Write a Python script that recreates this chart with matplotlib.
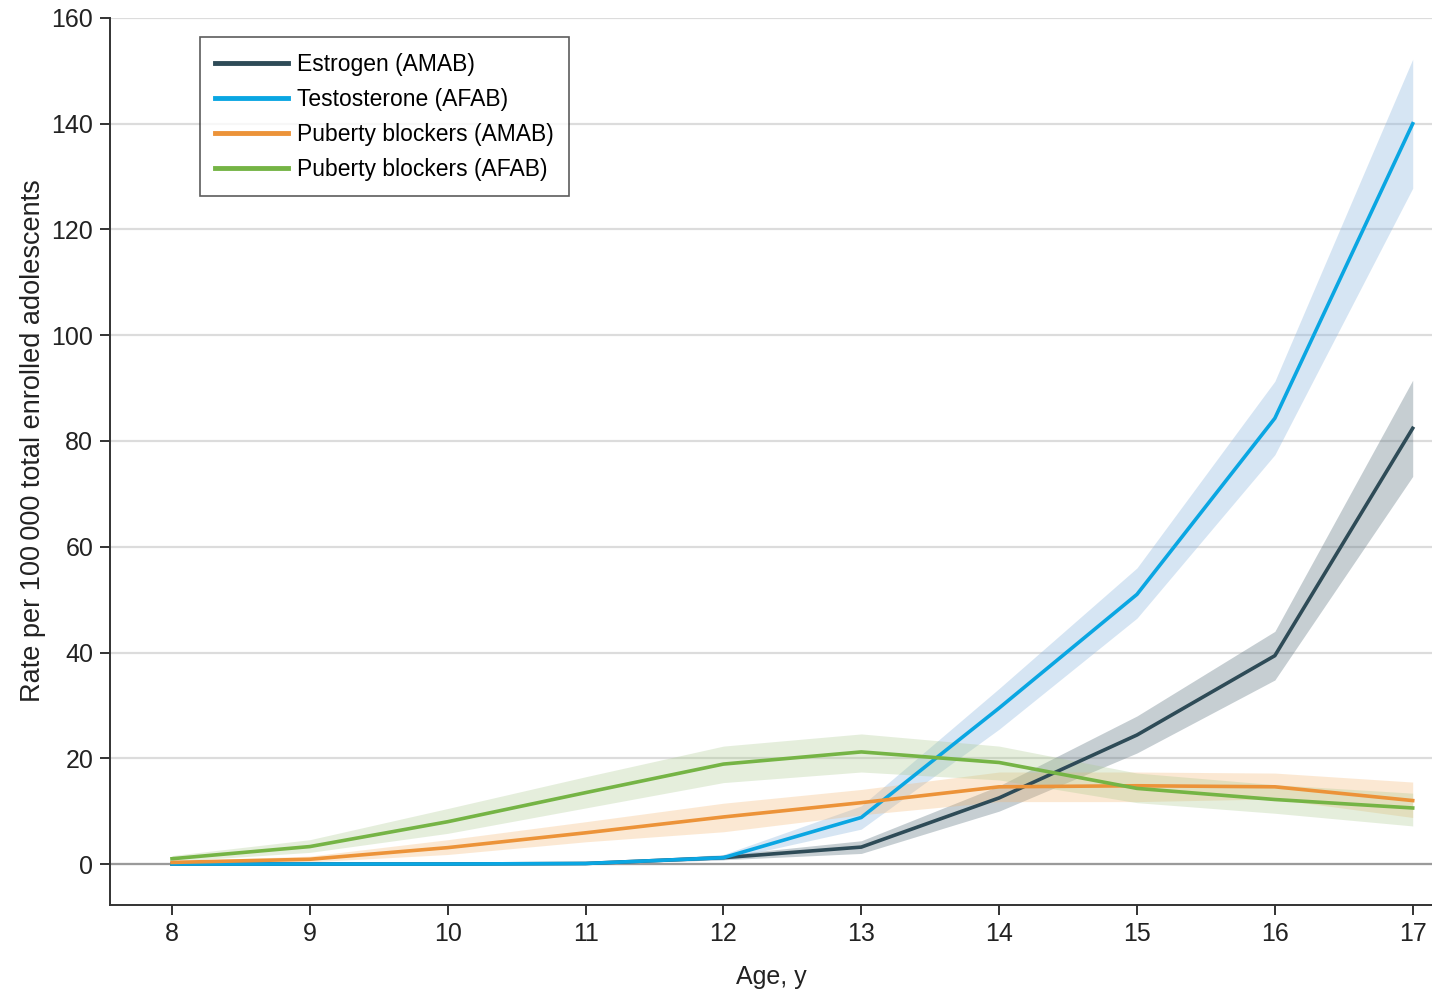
import matplotlib
matplotlib.use('Agg')
import matplotlib.pyplot as plt
import numpy as np

plt.rcParams['font.family'] = ['Liberation Sans Narrow', 'Liberation Sans', 'DejaVu Sans']

# age in years
ages = [8, 9, 10, 11, 12, 13, 14, 15, 16, 17]

# rates per 100 000 and 95% CI
estrogen = [0.0, 0.0, 0.0, 0.1, 1.2, 3.2, 12.5, 24.4, 39.4, 82.4]
estrogen_lo = [0.0, 0.0, 0.0, 0.0, 0.8, 2.0, 10.0, 21.0, 34.8, 73.3]
estrogen_hi = [0.1, 0.1, 0.1, 0.3, 1.7, 4.4, 14.8, 28.0, 44.0, 91.5]

testo = [0.0, 0.0, 0.0, 0.1, 1.2, 8.8, 29.5, 51.0, 84.3, 140.0]
testo_lo = [0.0, 0.0, 0.0, 0.0, 0.8, 6.6, 25.5, 46.5, 77.4, 127.8]
testo_hi = [0.1, 0.1, 0.1, 0.3, 1.8, 11.0, 33.2, 56.0, 91.3, 152.2]

pb_amab = [0.3, 0.9, 3.1, 5.9, 8.9, 11.6, 14.6, 14.8, 14.6, 12.0]
pb_amab_lo = [0.1, 0.4, 1.8, 4.2, 6.1, 9.3, 11.8, 11.8, 12.3, 8.8]
pb_amab_hi = [0.6, 1.5, 4.6, 8.0, 11.5, 14.1, 17.4, 17.4, 17.2, 15.5]

pb_afab = [1.0, 3.3, 8.0, 13.5, 18.9, 21.2, 19.2, 14.3, 12.2, 10.6]
pb_afab_lo = [0.5, 2.2, 5.8, 10.6, 15.4, 17.4, 15.9, 11.6, 9.6, 7.2]
pb_afab_hi = [1.6, 4.6, 10.5, 16.5, 22.3, 24.6, 22.3, 17.2, 15.0, 13.4]

series = [
    ('Estrogen (AMAB)', estrogen, estrogen_lo, estrogen_hi, '#2e4b57', '#5d7480', 0.35),
    ('Testosterone (AFAB)', testo, testo_lo, testo_hi, '#0aa6e2', '#8ab6df', 0.35),
    ('Puberty blockers (AMAB)', pb_amab, pb_amab_lo, pb_amab_hi, '#ec9339', '#f5b56e', 0.3),
    ('Puberty blockers (AFAB)', pb_afab, pb_afab_lo, pb_afab_hi, '#75b445', '#a9c98c', 0.3),
]

fig = plt.figure(figsize=(14.32, 9.92), dpi=100)
ax = fig.add_axes([0.0768, 0.0877, 0.9232, 0.8942])

for label, y, lo, hi, lc, fc, al in series:
    ax.fill_between(ages, lo, hi, color=fc, alpha=al, linewidth=0, zorder=2)
for label, y, lo, hi, lc, fc, al in series:
    ax.plot(ages, y, color=lc, linewidth=2.6, label=label, zorder=3)

ax.set_xlim(7.55, 17.14)
ax.set_ylim(-7.75, 160)
ax.set_xticks(ages)
ax.set_yticks(np.arange(0, 161, 20))
ax.yaxis.grid(True, color='#dcdcdc', linewidth=1.6, zorder=0)
ax.axhline(0, color='#9a9a9a', linewidth=1.6, zorder=1)
ax.set_axisbelow(True)

for s in ['top', 'right']:
    ax.spines[s].set_visible(False)
for s in ['left', 'bottom']:
    ax.spines[s].set_color('#333333')
    ax.spines[s].set_linewidth(1.4)
ax.tick_params(axis='both', direction='out', length=7, width=1.4, color='#333333',
               labelsize=18, labelcolor='#222222', pad=5)

ax.set_xlabel('Age, y', fontsize=18, color='#222222', labelpad=14)
ax.set_ylabel('Rate per 100\u2009000 total enrolled adolescents', fontsize=19.5,
              color='#222222')
ax.yaxis.set_label_coords(-0.0484, 0.524)

leg = ax.legend(loc='upper left', bbox_to_anchor=(0.068, 0.978), borderaxespad=0,
                fontsize=16.5, frameon=True, fancybox=False, edgecolor='#333333',
                handlelength=3.15, borderpad=0.68, labelspacing=0.52, handletextpad=0.4)
leg.get_frame().set_linewidth(1.2)
for line in leg.get_lines():
    line.set_linewidth(3.5)

plt.savefig('out.png', dpi=100)
